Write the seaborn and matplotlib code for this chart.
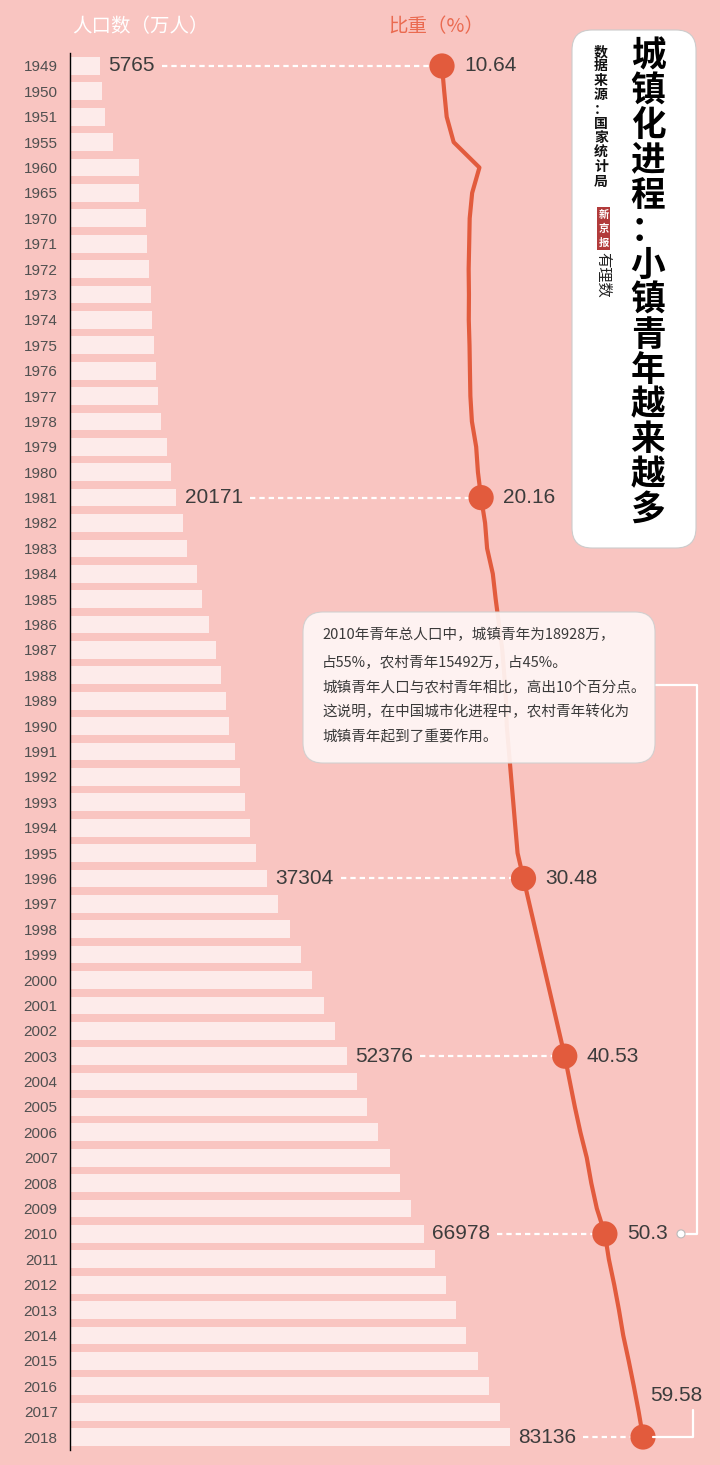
import numpy as np
import pandas as pd
import seaborn as sns
import matplotlib.pyplot as plt
from matplotlib.patches import FancyBboxPatch, Circle
from matplotlib.lines import Line2D
from matplotlib.transforms import IdentityTransform

# data
years = ['1949', '1950', '1951', '1955', '1960', '1965',
         '1970', '1971', '1972', '1973', '1974', '1975', '1976', '1977', '1978', '1979',
         '1980', '1981', '1982', '1983', '1984', '1985', '1986', '1987', '1988', '1989',
         '1990', '1991', '1992', '1993', '1994', '1995', '1996', '1997', '1998', '1999',
         '2000', '2001', '2002', '2003', '2004', '2005', '2006', '2007', '2008', '2009',
         '2010', '2011', '2012', '2013', '2014', '2015', '2016', '2017', '2018']

# urban population (10k people)
urban_pop = [5765, 6169, 6632, 8285, 13073, 13045,
             14424, 14711, 14935, 15345, 15595, 16030, 16341, 16669, 17245, 18495,
             19140, 20171, 21480, 22274, 24017, 25094, 26366, 27674, 28661, 29540,
             30195, 31203, 32175, 33173, 34169, 35174, 37304, 39449, 41608, 43748,
             45906, 48064, 50212, 52376, 54283, 56212, 58288, 60633, 62403, 64512,
             66978, 69079, 71182, 73111, 74916, 77116, 79298, 81347, 83136]

# urbanization rate (%)
urban_rate = [10.64, 11.18, 11.78, 13.48, 19.75, 17.98,
              17.38, 17.26, 17.13, 17.20, 17.16, 17.34, 17.44, 17.55, 17.92, 18.96,
              19.39, 20.16, 21.13, 21.62, 23.01, 23.71, 24.52, 25.32, 25.81, 26.21,
              26.41, 26.94, 27.46, 27.99, 28.51, 29.04, 30.48, 31.91, 33.35, 34.78,
              36.22, 37.66, 39.09, 40.53, 41.76, 42.99, 44.34, 45.89, 46.99, 48.34,
              50.30, 51.27, 52.57, 53.73, 54.77, 56.10, 57.35, 58.52, 59.58]

marked_years = ['1949', '1981', '1996', '2003', '2010', '2018']

title = '城镇化进程：小镇青年越来越多'
source = '数据来源：国家统计局'
note_lines = ['2010年青年总人口中，城镇青年为18928万，',
              '占55%，农村青年15492万，占45%。',
              '城镇青年人口与农村青年相比，高出10个百分点。',
              '这说明，在中国城市化进程中，农村青年转化为',
              '城镇青年起到了重要作用。']

BG = '#F9C5C1'
BAR = '#FDEBEA'
LINE = '#E25B3D'
W, H = 720, 1465

sns.set_theme(style='white')
plt.rcParams['font.family'] = ['Noto Sans CJK SC', 'DejaVu Sans']


def fp(x, y):
    # reference pixel -> figure fraction
    return x / W, 1 - y / H


df = pd.DataFrame({'year': years, 'pop': urban_pop, 'rate': urban_rate})
df['pos'] = np.arange(len(df))

fig = plt.figure(figsize=(W / 100, H / 100), dpi=100, facecolor=BG)
ax = fig.add_axes([69.5 / W, 1 - 1449.7 / H, (W - 69.5) / W, (1449.7 - 53.3) / H])
ax.set_facecolor(BG)

# bars
sns.barplot(data=df, x='pop', y='year', order=years, orient='y', color=BAR,
            saturation=1, width=0.7, errorbar=None, linewidth=0, ax=ax)
ax.set_xlim(0, 122900)
ax.set_ylim(len(years) - 0.5, -0.5)
ax.set_xlabel('')
ax.set_ylabel('')
ax.set_xticks([])
ax.tick_params(axis='y', length=0, pad=8.5, labelsize=11, labelcolor='#505050')
for lbl in ax.get_yticklabels():
    lbl.set_fontfamily('Liberation Sans')
for s in ['top', 'right', 'bottom']:
    ax.spines[s].set_visible(False)
ax.spines['left'].set_color('black')
ax.spines['left'].set_linewidth(1)

# ratio line on its own x scale
ax2 = ax.twiny()
sns.lineplot(data=df, x='rate', y='pos', orient='y', estimator=None, color=LINE,
             lw=3, ax=ax2, solid_joinstyle='round', solid_capstyle='round')
mk = df[df['year'].isin(marked_years)]
sns.scatterplot(data=mk, x='rate', y='pos', s=330, color=LINE, edgecolor='none',
                ax=ax2, zorder=5, clip_on=False)
ax2.set_xlim(-80.06, 78.33)
ax2.set_ylim(len(years) - 0.5, -0.5)
ax2.set_xlabel('')
ax2.set_ylabel('')
ax2.set_xticks([])
for s in ax2.spines.values():
    s.set_visible(False)

# labels
pop_labels = []
for _, r in mk.iterrows():
    t = ax.annotate(f"{r['pop']}", xy=(r['pop'], r['pos']), xytext=(6, 0),
                    textcoords='offset points', va='center', ha='left', fontsize=15,
                    family='Liberation Sans', color='#3c3c3c')
    pop_labels.append((t, r))
    if r['year'] == '2018':
        ax2.annotate(f"{r['rate']:g}", xy=(r['rate'], r['pos']), xytext=(5, 30),
                     textcoords='offset points', va='center', ha='left', fontsize=15,
                     family='Liberation Sans', color='#3c3c3c', annotation_clip=False)
    else:
        ax2.annotate(f"{r['rate']:g}", xy=(r['rate'], r['pos']), xytext=(16, 0),
                     textcoords='offset points', va='center', ha='left', fontsize=15,
                     family='Liberation Sans', color='#3c3c3c')

fig.canvas.draw()
renderer = fig.canvas.get_renderer()
for t, r in pop_labels:
    bb = t.get_window_extent(renderer)
    ydisp = ax.transData.transform((0, r['pos']))[1]
    x_start = ax2.transData.inverted().transform((bb.x1 + 7, ydisp))[0]
    ax2.plot([x_start, r['rate']], [r['pos'], r['pos']], color='white', lw=1.6,
             ls=(0, (2.4, 1.8)), zorder=3)

# connector for 2018 label
r18 = mk[mk['year'] == '2018'].iloc[0]
mx, my = ax2.transData.transform((r18['rate'], r18['pos']))
fig.add_artist(Line2D([mx + 10, 693, 693], [my, my, H - 1410], transform=IdentityTransform(),
                      color='white', lw=1.6, zorder=4))

# headers
fig.text(*fp(72, 27), '人口数（万人）', color='white', fontsize=14, va='center', ha='left')
fig.text(*fp(388, 27), '比重（%）', color='#EA6A50', fontsize=14, va='center', ha='left')

# title box
fig.add_artist(FancyBboxPatch((5.72, (H - 548) / 100), 1.24, 5.18,
                              boxstyle='round,pad=0,rounding_size=0.2',
                              transform=fig.dpi_scale_trans, fc='white', ec='#cccccc',
                              lw=0.8, zorder=10))
for k, ch in enumerate(title):
    fig.text(*fp(648, 56 + k * 34.9), ch, ha='center', va='center', fontsize=25,
             weight='bold', color='black', zorder=11)
for k, ch in enumerate(source):
    fig.text(*fp(601, 52 + k * 14.4), ch, ha='center', va='center', fontsize=10,
             weight='bold', color='#111111', zorder=11)
fig.add_artist(FancyBboxPatch((5.97, (H - 250) / 100), 0.13, 0.43, boxstyle='square,pad=0',
                              transform=fig.dpi_scale_trans, fc='#B23B3B', ec='none',
                              zorder=11))
for k, ch in enumerate('新京报'):
    fig.text(*fp(603.5, 215 + k * 14), ch, ha='center', va='center', fontsize=7.5,
             weight='bold', color='white', zorder=12)
fig.text(*fp(603, 275), '有理数', ha='center', va='center', fontsize=11, rotation=-90,
         style='italic', color='#222222', zorder=12)

# note box
fig.add_artist(FancyBboxPatch((3.03, (H - 763) / 100), 3.52, 1.51,
                              boxstyle='round,pad=0,rounding_size=0.2',
                              transform=fig.dpi_scale_trans, fc='#FFF7F6', ec='#cfcfcf',
                              lw=0.8, alpha=0.92, zorder=10))
for yy, line in zip([635, 662, 688, 712, 737], note_lines):
    fig.text(*fp(322, yy), line, ha='left', va='center', fontsize=10.5, color='#3a3a3a',
             zorder=11)

# callout to 2010
r10 = mk[mk['year'] == '2010'].iloc[0]
cy = ax2.transData.transform((r10['rate'], r10['pos']))[1]
fig.add_artist(Line2D([655, 697, 697, 685], [H - 685, H - 685, cy, cy],
                      transform=IdentityTransform(), color='white', lw=1.6, zorder=9))
fig.add_artist(Circle((681, cy), 4, transform=IdentityTransform(), fc='white',
                      ec='#bbbbbb', lw=0.8, zorder=9))

fig.savefig('out.png', dpi=100, facecolor=BG)
